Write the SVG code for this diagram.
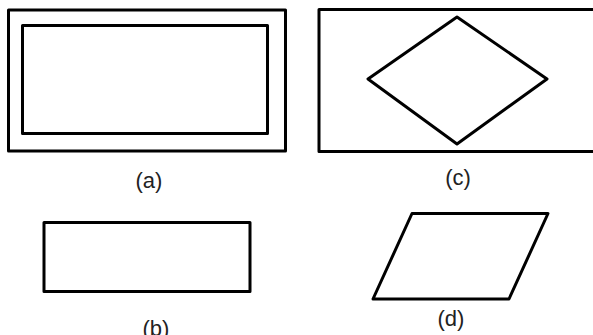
<svg xmlns="http://www.w3.org/2000/svg" width="593" height="335" viewBox="0 0 593 335">
<style>
.s{fill:none;stroke:#000;stroke-width:3;stroke-linejoin:round}
.t{font-family:"Liberation Sans",Arial,sans-serif;font-size:22px;fill:#222;text-anchor:middle}
</style>
<rect width="593" height="335" fill="#fff"/>
<g id="a">
<rect class="s" x="8.5" y="10" width="277" height="141"/>
<rect class="s" x="22.5" y="25.5" width="245" height="108"/>
<text class="t" x="149" y="188">(a)</text>
</g>
<g id="c">
<rect class="s" x="319" y="9.5" width="280" height="142"/>
<polygon class="s" points="457,17 547,79 457,144 368,79"/>
<text class="t" x="458" y="185">(c)</text>
</g>
<g id="b">
<rect class="s" x="44" y="222.5" width="206" height="69"/>
<text class="t" x="156" y="336">(b)</text>
</g>
<g id="d">
<polygon class="s" points="412,213.5 548,213.5 509,299 373,299"/>
<text class="t" x="451" y="326">(d)</text>
</g>
<g id="connectors"/>
</svg>
